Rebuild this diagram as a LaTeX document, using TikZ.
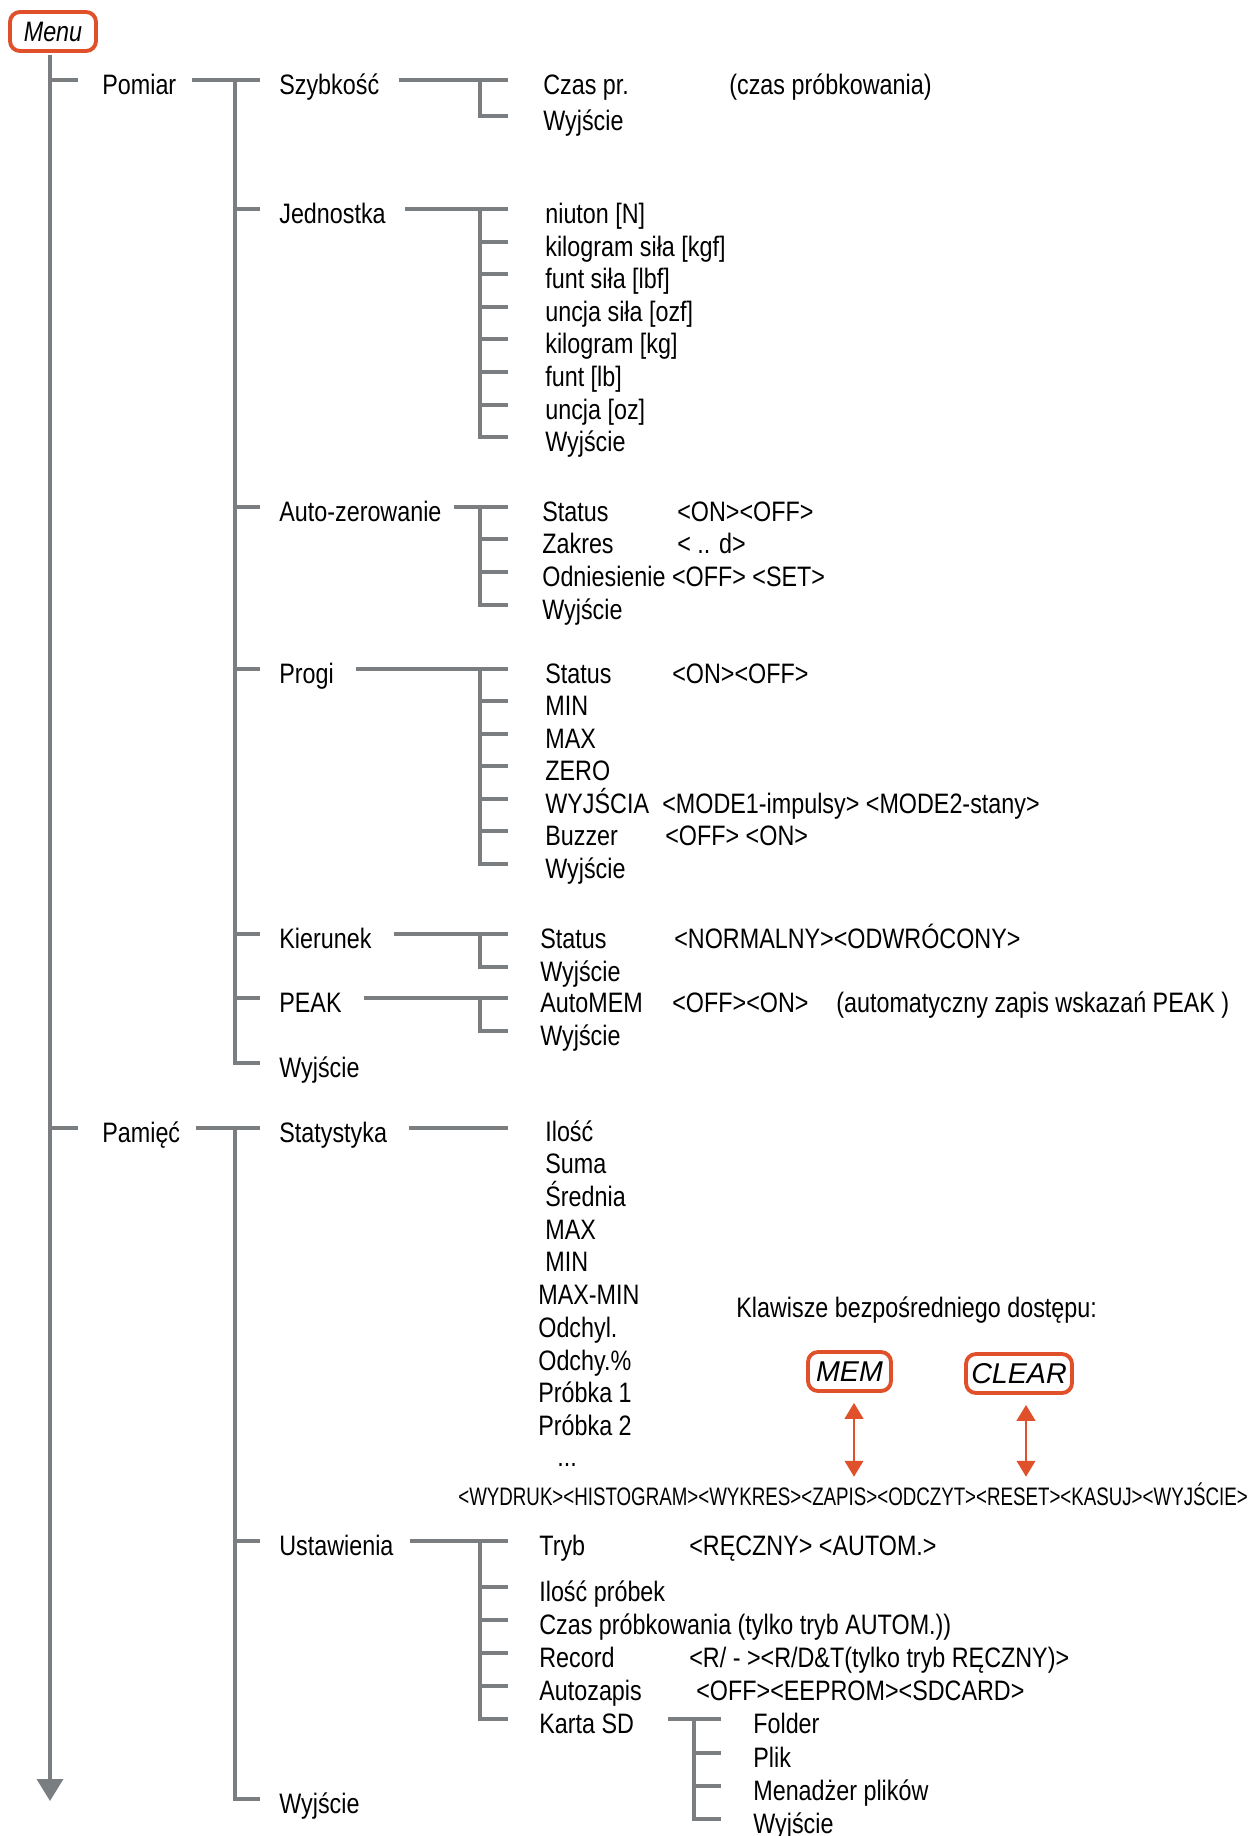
\documentclass[tikz,border=0pt]{standalone}
\usepackage{fontspec}
\setmainfont{Liberation Sans}[FakeStretch=0.83]
\newfontfamily\keyfont{Liberation Sans}
\newfontfamily\akcfont{Liberation Sans}[FakeStretch=0.74]
\usepackage{tikz}
\usetikzlibrary{arrows.meta}
\definecolor{TreeGray}{RGB}{122,126,128}
\definecolor{KeyOrange}{RGB}{224,80,43}
\newcommand{\mfont}{\fontsize{16pt}{19pt}\selectfont}

\begin{document}
\begin{tikzpicture}[
        x=0.02cm,y=-0.02cm,
        every node/.style={font=\mfont,anchor=west,inner sep=0pt,text height=0.56cm,text depth=0pt},
        mBox/.style={draw=KeyOrange,line width=2.2pt,rounded corners=0.2cm,anchor=center,
          minimum height=0.78cm,text height=11.3pt},
        keyBox/.style={mBox,font=\keyfont\itshape\fontsize{16.3pt}{19pt}\selectfont},
        tEdge/.style={draw=TreeGray,line width=2pt},
        kArrow/.style={draw=KeyOrange,line width=1.4pt,>={Triangle[length=9pt,width=10.5pt]},<->}]
        \useasboundingbox (0,0) rectangle (1254,1836);
        \coordinate (tip) at (50,1801);
        \coordinate (e1) at (78,0);
        \coordinate (v1) at (235,0);
        \coordinate (e2) at (260,0);
        \coordinate (v2) at (480,0);
        \coordinate (e3) at (508,0);
        \coordinate (v3) at (694,0);
        \coordinate (e4) at (721,0);
        \node[mBox,minimum width=1.72cm,font=\mfont\itshape] (menu) at (53,31.5) {Menu};
        % poziom 1
        \node (pom) at (102,80) {Pomiar};
        \node (pam) at (102,1128) {Pamięć};
        % poziom 2
        \node (szyb) at (279,80) {Szybkość};
        \node (jedn) at (279,209) {Jednostka};
        \node (azer) at (279,507) {Auto-zerowanie};
        \node (prog) at (279,669) {Progi};
        \node (kier) at (279,934) {Kierunek};
        \node (peak) at (279,998) {PEAK};
        \node (wyjP) at (279,1063) {Wyjście};
        \node (stat) at (279,1128) {Statystyka};
        \node (ustw) at (279,1541) {Ustawienia};
        \node (wyjM) at (279,1799) {Wyjście};
        % Szybkosc
        \node (sz1) at (543,80) {Czas pr.};
        \node (sz2) at (543,116) {Wyjście};
        \node (sz1v) at (729,80) {(czas próbkowania)};
        % Jednostka
        \node (j1) at (545,209) {niuton [N]};
        \node (j2) at (545,242) {kilogram siła [kgf]};
        \node (j3) at (545,274) {funt siła [lbf]};
        \node (j4) at (545,307) {uncja siła [ozf]};
        \node (j5) at (545,339) {kilogram [kg]};
        \node (j6) at (545,372) {funt [lb]};
        \node (j7) at (545,405) {uncja [oz]};
        \node (j8) at (545,437) {Wyjście};
        % Auto-zerowanie
        \node (az1) at (542,507) {Status};
        \node (az2) at (542,539) {Zakres};
        \node (az3) at (542,572) {Odniesienie <OFF> <SET>};
        \node (az4) at (542,605) {Wyjście};
        \node (az1v) at (677,507) {<ON><OFF>};
        \node (az2v) at (677,539) {< .. d>};
        % Progi
        \node (pr1) at (545,669) {Status};
        \node (pr2) at (545,701) {MIN};
        \node (pr3) at (545,734) {MAX};
        \node (pr4) at (545,766) {ZERO};
        \node (pr5) at (545,799) {WYJŚCIA};
        \node (pr6) at (545,831) {Buzzer};
        \node (pr7) at (545,864) {Wyjście};
        \node (pr1v) at (672,669) {<ON><OFF>};
        \node (pr5v) at (662,799) {<MODE1-impulsy> <MODE2-stany>};
        \node (pr6v) at (665,831) {<OFF> <ON>};
        % Kierunek, PEAK
        \node (ki1) at (540,934) {Status};
        \node (ki2) at (540,967) {Wyjście};
        \node (ki1v) at (674,934) {<NORMALNY><ODWRÓCONY>};
        \node (pk1) at (540,998) {AutoMEM};
        \node (pk2) at (540,1031) {Wyjście};
        \node (pk1v) at (672,998) {<OFF><ON>};
        \node (pk1n) at (836,998) {(automatyczny zapis wskazań PEAK )};
        % Statystyka
        \node (st1) at (545,1127) {Ilość};
        \node (st2) at (545,1159) {Suma};
        \node (st3) at (545,1192) {Średnia};
        \node (st4) at (545,1225) {MAX};
        \node (st5) at (545,1257) {MIN};
        \node (st6) at (538,1290) {MAX-MIN};
        \node (st7) at (538,1323) {Odchyl.};
        \node (st8) at (538,1356) {Odchy.\%};
        \node (st9) at (538,1388) {Próbka 1};
        \node (st10) at (538,1421) {Próbka 2};
        \node (dots) at (557,1452) {...};
        \node[font=\akcfont\fontsize{14.4pt}{17pt}\selectfont] (akc) at (458,1491)
          {<WYDRUK><HISTOGRAM><WYKRES><ZAPIS><ODCZYT><RESET><KASUJ><WYJŚCIE>};
        \node (klaw) at (736,1303) {Klawisze bezpośredniego dostępu:};
        \node[keyBox,minimum width=1.66cm] (mem) at (849.5,1371.5) {MEM};
        \node[keyBox,minimum width=2.12cm] (clr) at (1019,1373.5) {CLEAR};
        % Ustawienia
        \node (us1) at (539,1541) {Tryb};
        \node (us2) at (539,1587) {Ilość próbek};
        \node (us3) at (539,1620) {Czas próbkowania (tylko tryb AUTOM.))};
        \node (us4) at (539,1653) {Record};
        \node (us5) at (539,1686) {Autozapis};
        \node (us6) at (539,1719) {Karta SD};
        \node (us1v) at (689,1541) {<RĘCZNY> <AUTOM.>};
        \node (us4v) at (689,1653) {<R/ - ><R/D\&T(tylko tryb RĘCZNY)>};
        \node (us5v) at (696,1686) {<OFF><EEPROM><SDCARD>};
        % Karta SD
        \node (sd1) at (753,1719) {Folder};
        \node (sd2) at (753,1753) {Plik};
        \node (sd3) at (753,1786) {Menadżer plików};
        \node (sd4) at (753,1819) {Wyjście};
        % galezie
        \draw[tEdge,shorten <=0.04cm,-{Triangle[length=0.44cm,width=0.52cm]}] (tip |- menu.south) -- (tip);
        \draw[tEdge] (tip |- pom.west)--(e1 |- pom.west) (tip |- pam.west)--(e1 |- pam.west);
        \draw[tEdge] (pom.east) ++(15,0) -- (e2 |- pom.west);
        \draw[tEdge] (v1 |- pom.west) |- (e2 |- wyjP.west);
        \draw[tEdge] (v1 |- jedn.west)--(e2 |- jedn.west) (v1 |- azer.west)--(e2 |- azer.west)
          (v1 |- prog.west)--(e2 |- prog.west) (v1 |- kier.west)--(e2 |- kier.west)
          (v1 |- peak.west)--(e2 |- peak.west);
        \draw[tEdge] (pam.east) ++(15,0) -- (e2 |- pam.west);
        \draw[tEdge] (v1 |- pam.west) |- (e2 |- wyjM.west);
        \draw[tEdge] (v1 |- ustw.west)--(e2 |- ustw.west);
        \draw[tEdge] (szyb.east) ++(19,0) -- (e3 |- szyb.west);
        \draw[tEdge] (v2 |- sz1.west) |- (e3 |- sz2.west);
        \draw[tEdge] (jedn.east) ++(19,0) -- (e3 |- jedn.west);
        \draw[tEdge] (v2 |- j1.west) |- (e3 |- j8.west);
        \draw[tEdge] (v2 |- j2.west)--(e3 |- j2.west) (v2 |- j3.west)--(e3 |- j3.west)
          (v2 |- j4.west)--(e3 |- j4.west) (v2 |- j5.west)--(e3 |- j5.west)
          (v2 |- j6.west)--(e3 |- j6.west) (v2 |- j7.west)--(e3 |- j7.west);
        \draw[tEdge] (azer.east) ++(12,0) -- (e3 |- azer.west);
        \draw[tEdge] (v2 |- az1.west) |- (e3 |- az4.west);
        \draw[tEdge] (v2 |- az2.west)--(e3 |- az2.west) (v2 |- az3.west)--(e3 |- az3.west);
        \draw[tEdge] (prog.east) ++(22,0) -- (e3 |- prog.west);
        \draw[tEdge] (v2 |- pr1.west) |- (e3 |- pr7.west);
        \draw[tEdge] (v2 |- pr2.west)--(e3 |- pr2.west) (v2 |- pr3.west)--(e3 |- pr3.west)
          (v2 |- pr4.west)--(e3 |- pr4.west) (v2 |- pr5.west)--(e3 |- pr5.west)
          (v2 |- pr6.west)--(e3 |- pr6.west);
        \draw[tEdge] (kier.east) ++(22,0) -- (e3 |- kier.west);
        \draw[tEdge] (v2 |- ki1.west) |- (e3 |- ki2.west);
        \draw[tEdge] (peak.east) ++(22,0) -- (e3 |- peak.west);
        \draw[tEdge] (v2 |- pk1.west) |- (e3 |- pk2.west);
        \draw[tEdge] (stat.east) ++(22,0) -- (e3 |- stat.west);
        \draw[tEdge] (ustw.east) ++(16,0) -- (e3 |- ustw.west);
        \draw[tEdge] (v2 |- us1.west) |- (e3 |- us6.west);
        \draw[tEdge] (v2 |- us2.west)--(e3 |- us2.west) (v2 |- us3.west)--(e3 |- us3.west)
          (v2 |- us4.west)--(e3 |- us4.west) (v2 |- us5.west)--(e3 |- us5.west);
        \draw[tEdge] (us6.east) ++(34,0) -- (e4 |- us6.west);
        \draw[tEdge] (v3 |- sd1.west) |- (e4 |- sd4.west);
        \draw[tEdge] (v3 |- sd2.west)--(e4 |- sd2.west) (v3 |- sd3.west)--(e4 |- sd3.west);
        % klawisze
        \coordinate (memA) at ([xshift=0.09cm]mem.south);
        \coordinate (clrA) at ([xshift=0.14cm]clr.south);
        \draw[kArrow,shorten <=0.2cm] (memA) -- (memA |- akc.north);
        \draw[kArrow,shorten <=0.2cm] (clrA) -- (clrA |- akc.north);
      \end{tikzpicture}
\end{document}
